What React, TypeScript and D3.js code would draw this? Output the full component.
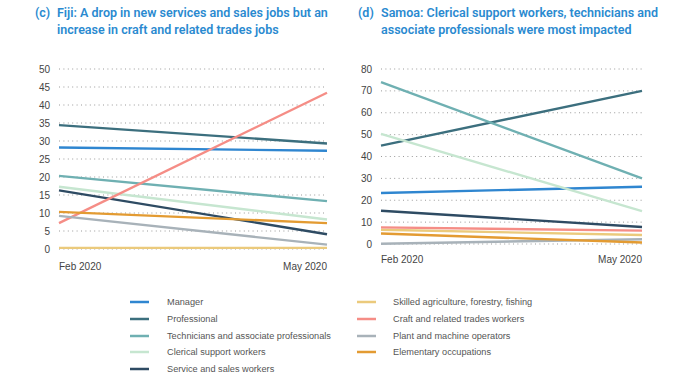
import React from "react";
import * as d3 from "d3";

const periods = ["Feb 2020", "May 2020"];
const occupations = [
  "Manager",
  "Professional",
  "Technicians and associate professionals",
  "Clerical support workers",
  "Service and sales workers",
  "Skilled agriculture, forestry, fishing",
  "Craft and related trades workers",
  "Plant and machine operators",
  "Elementary occupations",
];
const colors = ["#2f86d0", "#3c6f7e", "#6fb0b2", "#c6e6d0", "#2e4b63", "#ebca7c", "#f58d86", "#a8b2b9", "#e39b32"];

const fijiFeb = [28.2, 34.4, 20.3, 17.3, 16.3, 0.3, 7.2, 9.2, 10.3];
const fijiMay = [27.3, 29.3, 13.3, 8.2, 4.1, 0.3, 43.4, 1.2, 7.2];
const samoaFeb = [23.3, 45, 74, 50.3, 15.2, 6.5, 7.6, 0.1, 4.8];
const samoaMay = [26.2, 70, 30, 15, 7.8, 4.1, 6.1, 2.2, 0.7];

const fijiTicks = [0, 5, 10, 15, 20, 25, 30, 35, 40, 45, 50];
const samoaTicks = [0, 10, 20, 30, 40, 50, 60, 70, 80];

const titleColor = "#2a8ad0";
const titleFont = "Roboto, 'Noto Sans', Arial, sans-serif";
const bodyFont = "'Liberation Sans', Arial, Helvetica, sans-serif";

type PanelProps = {
  feb: number[];
  may: number[];
  ticks: number[];
  x0: number;
  x1: number;
  yTop: number;
  yBottom: number;
  labelY: number;
};

function Panel({ feb, may, ticks, x0, x1, yTop, yBottom, labelY }: PanelProps) {
  const x = d3.scalePoint<string>().domain(periods).range([x0, x1]);
  const y = d3.scaleLinear().domain([0, d3.max(ticks) as number]).range([yBottom, yTop]);
  const line = d3
    .line<{ p: string; v: number }>()
    .x((d) => x(d.p) as number)
    .y((d) => y(d.v));
  return (
    <g fontFamily={bodyFont}>
      {ticks.map((t) => (
        <g key={t}>
          <line x1={x0} x2={x1} y1={y(t)} y2={y(t)} stroke="#9a9a9a" strokeWidth={1} strokeDasharray="1,3.4" />
          <text x={x0 - 9} y={y(t)} dy="0.35em" textAnchor="end" fontSize={10} fill="#444">
            {t}
          </text>
        </g>
      ))}
      {occupations.map((o, i) => (
        <path
          key={o}
          d={line([
            { p: periods[0], v: feb[i] },
            { p: periods[1], v: may[i] },
          ]) as string}
          fill="none"
          stroke={colors[i]}
          strokeWidth={2.4}
        />
      ))}
      <text x={x0} y={labelY} fontSize={10} fill="#444" textAnchor="start">
        {periods[0]}
      </text>
      <text x={x1} y={labelY} fontSize={10} fill="#444" textAnchor="end">
        {periods[1]}
      </text>
    </g>
  );
}

export default function App() {
  const legendRows = [302, 319, 336, 352, 369];
  return (
    <svg width={673} height={378} style={{ position: "absolute", left: 0, top: 0, fontFamily: titleFont }}>
      <rect width={673} height={378} fill="#fff" />
      <g fontSize={12.5} fontWeight={600} fill={titleColor}>
        <text x={35} y={17}>(c)</text>
        <text x={57} y={17}>Fiji: A drop in new services and sales jobs but an</text>
        <text x={57} y={34}>increase in craft and related trades jobs</text>
        <text x={358} y={17}>(d)</text>
        <text x={381} y={17}>Samoa: Clerical support workers, technicians and</text>
        <text x={381} y={34}>associate professionals were most impacted</text>
      </g>
      <Panel feb={fijiFeb} may={fijiMay} ticks={fijiTicks} x0={59} x1={327} yTop={69} yBottom={249} labelY={270} />
      <Panel feb={samoaFeb} may={samoaMay} ticks={samoaTicks} x0={381} x1={642} yTop={69} yBottom={244} labelY={263} />
      {occupations.map((o, i) => {
        const col = i < 5 ? 0 : 1;
        const row = i < 5 ? i : i - 5;
        const sx = col === 0 ? 130 : 357;
        const tx = col === 0 ? 167 : 393;
        const yy = legendRows[row];
        return (
          <g key={o}>
            <line x1={sx} x2={sx + 19} y1={yy} y2={yy} stroke={colors[i]} strokeWidth={2.5} />
            <text x={tx} y={yy} dy="0.35em" fontSize={9.2} fill="#555" fontFamily={bodyFont}>
              {o}
            </text>
          </g>
        );
      })}
    </svg>
  );
}
